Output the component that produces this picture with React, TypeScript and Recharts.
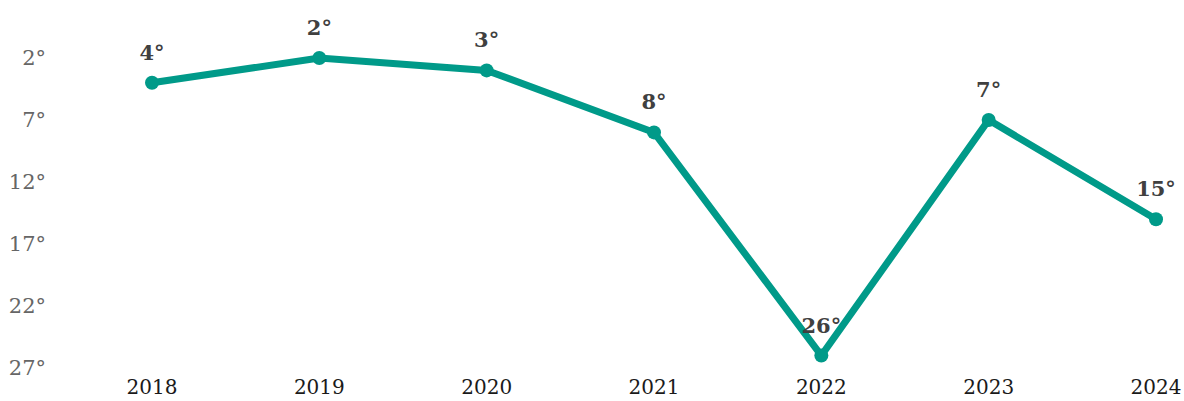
import React from "react";
import { LineChart, Line, XAxis, YAxis, LabelList } from "recharts";

document.body.style.margin = "0";

const years = ["2018", "2019", "2020", "2021", "2022", "2023", "2024"];
const ranks = [4, 2, 3, 8, 26, 7, 15];
const yTicks = [2, 7, 12, 17, 22, 27];

const data = years.map((year, i) => ({ year, rank: ranks[i] }));

const FONT = "'DejaVu Serif', serif";
const TEAL = "#009A89";

export default function App() {
  return (
    <div style={{ width: 1184, height: 401, background: "#fff" }}>
      <LineChart width={1184} height={401} data={data} margin={{ top: 58, right: 28, bottom: 0, left: 0 }}>
        <XAxis
          dataKey="year"
          axisLine={false}
          tickLine={false}
          tickSize={0}
          tickMargin={12}
          height={33}
          padding={{ left: 102, right: 0 }}
          tick={{ fill: "#1a1a1a", fontSize: 20, fontFamily: FONT }}
        />
        <YAxis
          reversed
          domain={[2, 27]}
          ticks={yTicks}
          axisLine={false}
          tickLine={false}
          tickSize={0}
          tickMargin={4}
          width={50}
          tickFormatter={(v) => `${v}°`}
          tick={{ fill: "#666", fontSize: 21, fontFamily: FONT }}
        />
        <Line
          type="linear"
          dataKey="rank"
          stroke={TEAL}
          strokeWidth={7}
          dot={{ r: 7, fill: TEAL, stroke: TEAL, strokeWidth: 0 }}
          isAnimationActive={false}
        >
          <LabelList
            dataKey="rank"
            position="top"
            offset={23}
            formatter={(v: number) => `${v}°`}
            style={{ fill: "#404040", fontSize: 21, fontWeight: "bold", fontFamily: FONT }}
          />
        </Line>
      </LineChart>
    </div>
  );
}
